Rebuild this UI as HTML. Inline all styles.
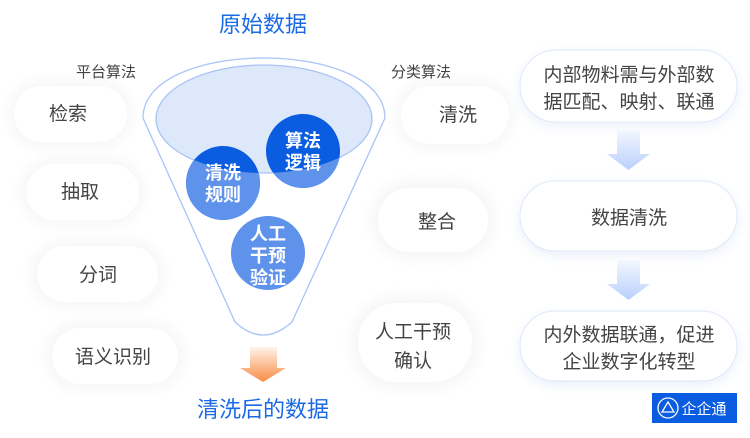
<!DOCTYPE html>
<html><head><meta charset="utf-8"><style>
body{margin:0;width:750px;height:433px;background:#fff;overflow:hidden;font-family:"Liberation Sans","Noto Sans CJK SC",sans-serif;}
</style></head><body>
<svg width="750" height="433" viewBox="0 0 750 433" xmlns="http://www.w3.org/2000/svg" font-family="Liberation Sans, Noto Sans CJK SC, sans-serif">
<defs>
<linearGradient id="og" x1="0" y1="0" x2="0" y2="1"><stop offset="0" stop-color="#fff3ea"/><stop offset="1" stop-color="#f98a45"/></linearGradient>
<linearGradient id="bg" x1="0" y1="0" x2="0" y2="1"><stop offset="0" stop-color="#f4f8ff"/><stop offset="1" stop-color="#b9d0fb"/></linearGradient>
<filter id="sh" x="-30%" y="-50%" width="160%" height="200%"><feGaussianBlur stdDeviation="6"/></filter>
</defs>
<g fill="#f6f7f8" filter="url(#sh)">
<rect x="8" y="80" width="125" height="68" rx="34"/>
<rect x="20" y="158" width="125" height="68" rx="34"/>
<rect x="30" y="240" width="135" height="68" rx="34"/>
<rect x="45" y="322" width="140" height="68" rx="34"/>
<rect x="395" y="80" width="120" height="70" rx="35"/>
<rect x="370" y="180" width="125" height="80" rx="40"/>
<rect x="350" y="295" width="130" height="95" rx="47"/>
</g>
<g fill="#fff">
<rect x="14" y="86" width="113" height="56" rx="28"/>
<rect x="26" y="164" width="113" height="56" rx="28"/>
<rect x="37" y="246" width="121" height="56" rx="28"/>
<rect x="52" y="328" width="126" height="56" rx="28"/>
<rect x="401" y="86" width="108" height="58" rx="29"/>
<rect x="378" y="188" width="110" height="64" rx="32"/>
<rect x="358" y="303" width="114" height="79" rx="39"/>
</g>
<g font-size="19" fill="#444" text-anchor="middle">
<text x="68" y="120">检索</text>
<text x="80" y="198">抽取</text>
<text x="98" y="281">分词</text>
<text x="113" y="363">语义识别</text>
<text x="458" y="121">清洗</text>
<text x="437" y="228">整合</text>
<text x="413" y="338">人工干预</text>
<text x="413" y="367">确认</text>
</g>
<g font-size="15" fill="#444" text-anchor="middle">
<text x="106" y="77">平台算法</text>
<text x="421" y="77">分类算法</text>
</g>
<text x="263" y="32" font-size="22" fill="#1a6ae6" text-anchor="middle">原始数据</text>
<text x="263" y="417" font-size="22" fill="#1a6ae6" text-anchor="middle">清洗后的数据</text>
<path d="M143,118 C143,38 385,38 385,118 L292,322 Q263,348 235,322 Z" fill="#fff" stroke="#a9c4f5" stroke-width="1.3"/>
<ellipse cx="264" cy="119" rx="108" ry="54" fill="#dde8fb" stroke="#a9c4f5" stroke-width="1.3"/>
<circle cx="303" cy="151" r="37" fill="#0a5ce0"/>
<circle cx="223" cy="183" r="37" fill="#0a5ce0"/>
<clipPath id="outE"><path d="M0,0H750V433H0Z M156,119 A108,54 0 1,0 372,119 A108,54 0 1,0 156,119Z" clip-rule="evenodd"/></clipPath>
<g clip-path="url(#outE)" fill="#5f92ea">
<circle cx="303" cy="151" r="37"/>
<circle cx="223" cy="183" r="37"/>
</g>
<circle cx="268" cy="253" r="37" fill="#5f92ea"/>
<g font-size="18" fill="#fff" text-anchor="middle" font-weight="bold">
<text x="303" y="147">算法</text><text x="303" y="169">逻辑</text>
<text x="223" y="179">清洗</text><text x="223" y="201">规则</text>
<text x="268" y="240">人工</text><text x="268" y="262">干预</text><text x="268" y="284">验证</text>
</g>
<path d="M250,347 H277 V368 H286 L263,382 L240,368 H250 Z" fill="url(#og)"/>
<g fill="#e9effb" filter="url(#sh)"><rect x="520" y="54" width="217" height="72" rx="36"/><rect x="520" y="185" width="217" height="70" rx="35"/><rect x="520" y="315" width="217" height="70" rx="35"/></g>
<g fill="#fff" stroke="#dfe7fa"><rect x="520" y="50" width="217" height="72" rx="36"/><rect x="520" y="181" width="217" height="70" rx="35"/><rect x="520" y="311" width="217" height="70" rx="35"/></g>
<g font-size="19" fill="#444" text-anchor="middle">
<text x="629" y="81">内部物料需与外部数</text><text x="629" y="108">据匹配、映射、联通</text>
<text x="629" y="224">数据清洗</text>
<text x="629" y="341">内外数据联通，促进</text><text x="629" y="368">企业数字化转型</text>
</g>
<path d="M617,130 H640 V154 H650 L628.5,170 L607,154 H617 Z" fill="url(#bg)"/>
<path d="M617,260 H640 V284 H650 L628.5,300 L607,284 H617 Z" fill="url(#bg)"/>
<rect x="652" y="393" width="85" height="30" fill="#0a5ce0"/>
<circle cx="668" cy="408" r="10" fill="none" stroke="#fff" stroke-width="1.3"/>
<path d="M668,402 L674,412 L662,412 Z" fill="none" stroke="#fff" stroke-width="1.3"/>
<text x="704" y="414" font-size="15" fill="#fff" text-anchor="middle">企企通</text>
</svg>
</body></html>
